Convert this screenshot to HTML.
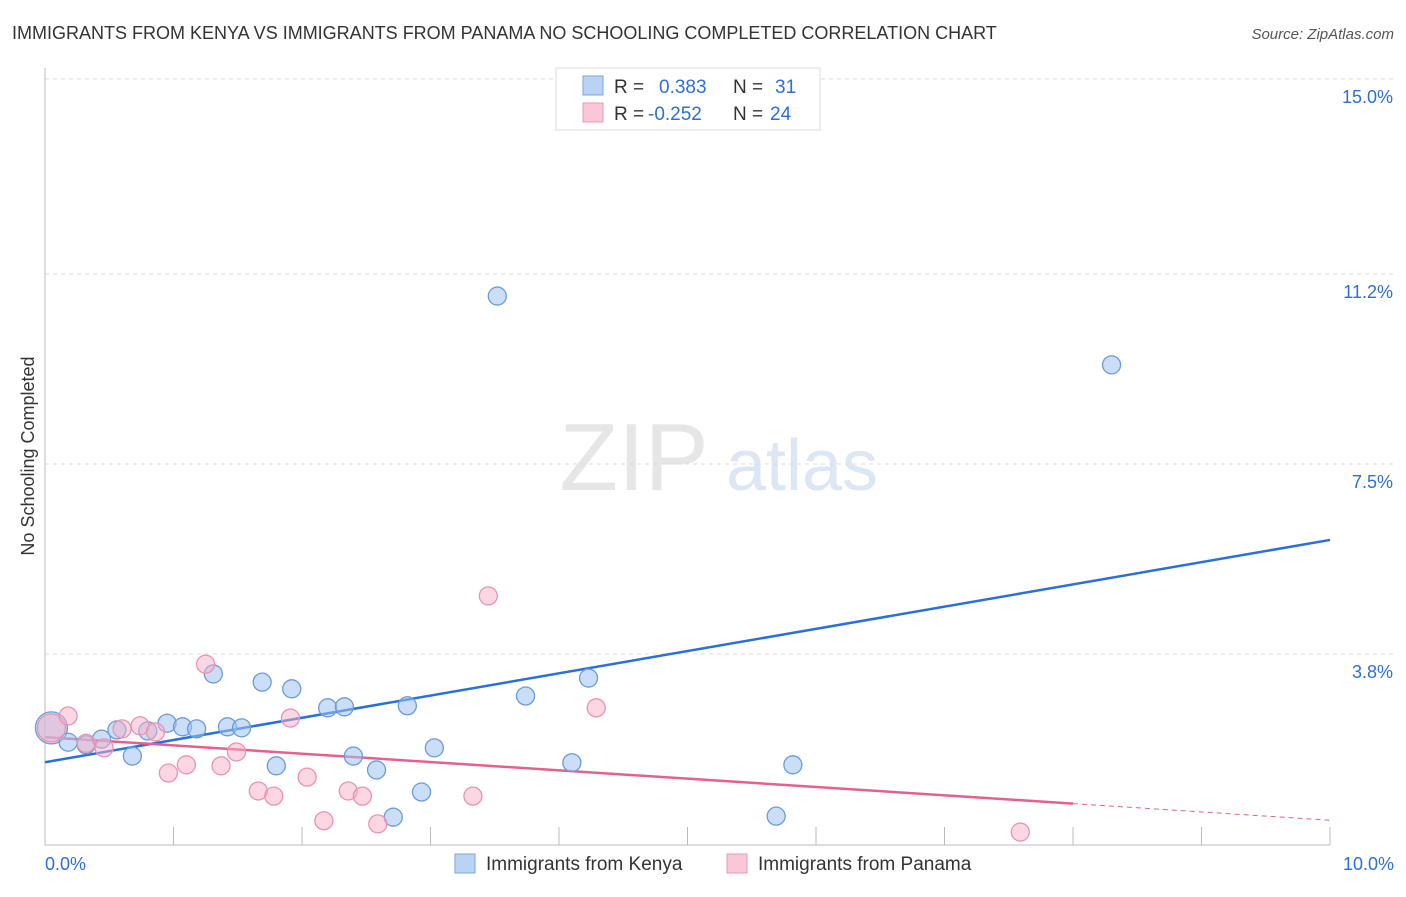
<!DOCTYPE html>
<html><head><meta charset="utf-8"><style>
body{margin:0;background:#fff;font-family:"Liberation Sans",sans-serif;}
svg text{font-family:"Liberation Sans",sans-serif;}
</style></head><body>
<svg id="chart" width="1406" height="892" xmlns="http://www.w3.org/2000/svg">
<text x="12" y="39" font-size="18" fill="#333">IMMIGRANTS FROM KENYA VS IMMIGRANTS FROM PANAMA NO SCHOOLING COMPLETED CORRELATION CHART</text>
<text x="1394" y="39" font-size="15" fill="#555" font-style="italic" text-anchor="end">Source: ZipAtlas.com</text>
<text x="34" y="456" font-size="18" fill="#333" text-anchor="middle" transform="rotate(-90 34 456)">No Schooling Completed</text>
<g><text x="634" y="490" font-size="96" fill="#e6e6e6" font-family="Liberation Serif" text-anchor="middle">ZIP</text><text x="802" y="490" font-size="72" fill="#dce6f4" text-anchor="middle">atlas</text></g>
<g id="grid"></g><g id="axes"></g><g id="lines"></g><g id="pts"></g>
<g>
<rect x="556" y="68" width="264" height="62" fill="#fff" stroke="#ddd"/>
<rect x="583" y="76" width="20" height="19" fill="#b9d3f5" stroke="#7aa6e0"/>
<rect x="583" y="103" width="20" height="19" fill="#f9c7d7" stroke="#e99ab4"/>
<text x="614" y="93" font-size="19" fill="#333">R =</text><text x="659" y="93" font-size="19" fill="#2e6fd6">0.383</text>
<text x="733" y="93" font-size="19" fill="#333">N =</text><text x="775" y="93" font-size="19" fill="#2e6fd6">31</text>
<text x="614" y="120" font-size="19" fill="#333">R =</text><text x="648" y="120" font-size="19" fill="#2e6fd6">-0.252</text>
<text x="733" y="120" font-size="19" fill="#333">N =</text><text x="770" y="120" font-size="19" fill="#2e6fd6">24</text>
</g>
<g>
<rect x="455" y="854" width="20" height="19" fill="#b9d3f5" stroke="#7aa6e0"/><text x="486" y="870" font-size="19" fill="#333">Immigrants from Kenya</text>
<rect x="727" y="854" width="20" height="19" fill="#f9c7d7" stroke="#e99ab4"/><text x="758" y="870" font-size="19" fill="#333">Immigrants from Panama</text>
</g>
</svg>
<script>
const yTicks=[15.0,11.2,7.5,3.8];
const yTickLabels=["15.0%","11.2%","7.5%","3.8%"];
const xTickLabels=["0.0%","10.0%"];
const kenyaX=[0.05,0.18,0.32,0.44,0.56,0.68,0.80,0.95,1.07,1.18,1.31,1.42,1.53,1.69,1.80,1.92,2.20,2.33,2.40,2.58,2.71,2.82,2.93,3.03,3.52,3.74,4.10,4.23,5.69,5.82,8.30];
const kenyaY=[2.36,2.08,2.03,2.14,2.32,1.81,2.30,2.45,2.38,2.34,3.41,2.38,2.36,3.25,1.62,3.12,2.75,2.77,1.81,1.54,0.62,2.79,1.11,1.97,10.77,2.98,1.68,3.33,0.64,1.64,9.43];
const panamaX=[0.05,0.18,0.32,0.46,0.60,0.74,0.86,0.96,1.10,1.25,1.37,1.49,1.66,1.78,1.91,2.04,2.17,2.36,2.47,2.59,3.33,3.45,4.29,7.59];
const panamaY=[2.36,2.59,2.06,1.97,2.34,2.40,2.28,1.48,1.64,3.60,1.62,1.89,1.13,1.03,2.55,1.40,0.55,1.13,1.03,0.49,1.03,4.93,2.75,0.33];
const kenyaTrend=[1.69,6.02];
const panamaTrend=[2.18,0.56];
const X=v=>45+v*128.5, Y=v=>849-v*51.34;
const NS="http://www.w3.org/2000/svg";
function mk(p,t,a){const e=document.createElementNS(NS,t);for(const k in a)e.setAttribute(k,a[k]);document.getElementById(p).appendChild(e);return e;}
yTicks.forEach((t,i)=>{
 const l=mk('grid','line',{x1:45,x2:1394,y1:Y(t),y2:Y(t),stroke:'#ddd','stroke-dasharray':'4,4'});
 
 
 const tx=mk('grid','text',{x:1393,y:Y(t)+24,'font-size':18,fill:'#2e6fd6','text-anchor':'end'});
 tx.textContent=yTickLabels[i];
 
 
});
const ax=mk('axes','path',{d:'M45 68V845H1330',stroke:'#bbb',fill:'none'});


for(let k=1;k<=10;k++){const t=mk('axes','line',{x1:X(k),x2:X(k),y1:827,y2:845,stroke:'#bbb'});
 
 }
[[0,'start',45],[10,'end',1394]].forEach((d,i)=>{const t=mk('axes','text',{x:d[2],y:870,'font-size':18,fill:'#2e6fd6','text-anchor':d[1]});t.textContent=xTickLabels[i];
 
 });
const kl=mk('lines','line',{x1:X(0),y1:Y(kenyaTrend[0]),x2:X(10),y2:Y(kenyaTrend[1]),stroke:'#2a6fdb','stroke-width':2.5});


const pm=v=>panamaTrend[0]+(panamaTrend[1]-panamaTrend[0])*v/10;
const pl=mk('lines','line',{x1:X(0),y1:Y(pm(0)),x2:X(8),y2:Y(pm(8)),stroke:'#e5608f','stroke-width':2.5});


const pd=mk('lines','line',{x1:X(8),y1:Y(pm(8)),x2:X(10),y2:Y(pm(10)),stroke:'#e5608f','stroke-width':1,'stroke-dasharray':'5,4'});


kenyaX.forEach((x,i)=>{const c=mk('pts','circle',{cx:X(x),cy:Y(kenyaY[i]),r:i==0?16:9,fill:'rgba(160,195,240,0.55)',stroke:'#6b9bd9','stroke-width':1.3});
 
 });
panamaX.forEach((x,i)=>{const c=mk('pts','circle',{cx:X(x),cy:Y(panamaY[i]),r:i==0?14:9,fill:'rgba(245,175,200,0.5)',stroke:'#ea93b0','stroke-width':1.3});
 
 });
</script>
</body></html>
